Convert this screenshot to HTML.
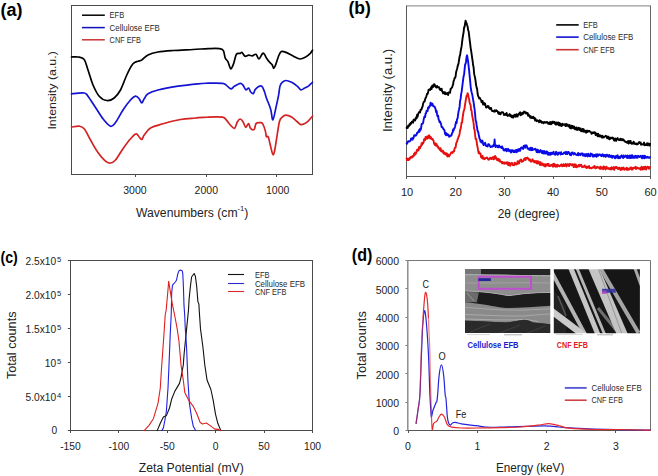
<!DOCTYPE html><html><head><meta charset="utf-8"><style>html,body{margin:0;padding:0;background:#fff;width:658px;height:476px;overflow:hidden}svg{display:block}text{font-family:"Liberation Sans", sans-serif}</style></head><body>
<svg width="658" height="476" viewBox="0 0 658 476">
<rect width="658" height="476" fill="#fff"/>
<text x="0.5" y="15.6" font-size="18.0" text-anchor="start" fill="#000" font-weight="bold" >(a)</text>
<rect x="71.5" y="5.5" width="241" height="169" fill="none" stroke="#4a4a4a" stroke-width="1"/>
<line x1="135.5" y1="174.5" x2="135.5" y2="177.0" stroke="#4a4a4a" stroke-width="1.00"/>
<line x1="206.5" y1="174.5" x2="206.5" y2="177.0" stroke="#4a4a4a" stroke-width="1.00"/>
<line x1="276.5" y1="174.5" x2="276.5" y2="177.0" stroke="#4a4a4a" stroke-width="1.00"/>
<text x="134.9" y="194.2" font-size="10.5" text-anchor="middle" fill="#222" font-weight="normal" >3000</text>
<text x="206.3" y="194.2" font-size="10.5" text-anchor="middle" fill="#222" font-weight="normal" >2000</text>
<text x="277.7" y="194.2" font-size="10.5" text-anchor="middle" fill="#222" font-weight="normal" >1000</text>
<text x="136.0" y="217.0" font-size="12.0" text-anchor="start" fill="#222" font-weight="normal" textLength="112.4" lengthAdjust="spacingAndGlyphs">Wavenumbers (cm<tspan dy="-5.6" font-size="7.5">-1</tspan><tspan dy="5.6">)</tspan></text>
<text transform="translate(56,129.6) rotate(-90)" font-size="11.2" fill="#222" textLength="78.4" lengthAdjust="spacingAndGlyphs">Intensity (a.u.)</text>
<line x1="82.0" y1="15.2" x2="104.8" y2="15.2" stroke="#000" stroke-width="1.50"/>
<text x="109.6" y="18.1" font-size="8.4" fill="#2a2a2a" textLength="14.6" lengthAdjust="spacingAndGlyphs">EFB</text>
<line x1="82.0" y1="27.6" x2="104.8" y2="27.6" stroke="#1010b8" stroke-width="1.50"/>
<text x="109.6" y="30.5" font-size="8.4" fill="#2a2a2a" textLength="50.2" lengthAdjust="spacingAndGlyphs">Cellulose EFB</text>
<line x1="82.0" y1="39.8" x2="104.8" y2="39.8" stroke="#cc3333" stroke-width="1.50"/>
<text x="109.6" y="42.7" font-size="8.4" fill="#2a2a2a" textLength="31.4" lengthAdjust="spacingAndGlyphs">CNF EFB</text>
<path d="M71.5,57.0 C72.6,57.0 75.9,56.6 78.0,57.0 C80.1,57.4 82.6,57.3 84.2,59.5 C85.9,61.7 86.5,65.8 88.0,70.0 C89.5,74.2 91.1,80.6 93.0,85.0 C94.9,89.4 97.0,93.7 99.2,96.2 C101.5,98.8 104.2,100.2 106.8,100.5 C109.2,100.8 112.0,99.8 114.2,98.0 C116.5,96.2 118.4,93.8 120.5,90.0 C122.6,86.2 124.7,79.4 126.8,75.0 C128.8,70.6 131.1,66.0 133.0,63.8 C134.9,61.5 136.5,61.9 138.0,61.2 C139.5,60.6 140.1,61.0 141.8,60.0 C143.4,59.0 145.3,56.3 148.0,55.0 C150.7,53.7 153.8,52.8 158.0,52.0 C162.2,51.2 167.2,50.9 173.0,50.5 C178.8,50.1 187.2,49.8 193.0,49.5 C198.8,49.2 203.6,48.8 208.0,48.6 C212.4,48.5 216.9,48.3 219.5,48.6 C222.1,48.9 222.5,49.0 223.4,50.6 C224.3,52.2 224.4,56.1 225.2,58.0 C226.0,59.9 227.1,60.0 228.0,61.8 C228.9,63.6 229.9,68.6 230.8,68.9 C231.7,69.2 232.7,66.0 233.6,63.6 C234.5,61.2 235.3,56.0 236.4,54.3 C237.5,52.6 239.3,53.7 240.2,53.4 C241.1,53.1 241.2,51.9 242.0,52.4 C242.8,52.9 243.8,55.7 244.9,56.2 C246.0,56.7 247.4,55.3 248.6,55.2 C249.8,55.1 251.1,55.9 252.3,55.8 C253.5,55.6 254.9,53.8 256.0,54.3 C257.1,54.8 257.8,59.1 258.9,59.0 C260.0,58.9 261.7,54.2 262.6,53.4 C263.5,52.6 263.9,53.5 264.5,54.3 C265.1,55.1 265.6,56.8 266.4,58.0 C267.2,59.2 268.3,60.7 269.2,61.8 C270.1,62.9 271.2,63.5 272.0,64.6 C272.8,65.7 273.2,68.3 273.8,68.3 C274.4,68.3 274.9,66.6 275.7,64.6 C276.5,62.6 277.6,58.4 278.5,56.2 C279.4,54.0 280.1,52.1 281.3,51.5 C282.6,50.9 284.0,51.6 286.0,52.4 C288.0,53.2 291.2,55.1 293.5,56.2 C295.8,57.3 298.0,58.9 300.0,59.0 C302.0,59.1 303.9,58.0 305.6,57.1 C307.3,56.2 309.2,54.5 310.3,53.4 C311.4,52.2 312.1,50.7 312.5,50.2" fill="none" stroke="#000" stroke-width="1.70" stroke-linejoin="round" stroke-linecap="round" />
<path d="M71.5,93.8 C73.6,93.6 81.5,92.6 84.2,93.0 C87.0,93.4 86.1,93.8 88.0,96.2 C89.9,98.7 93.0,103.8 95.5,107.5 C98.0,111.2 100.5,115.6 103.0,118.8 C105.5,121.9 108.4,125.6 110.5,126.2 C112.6,126.9 113.4,125.2 115.5,122.5 C117.6,119.8 120.5,113.8 123.0,110.0 C125.5,106.2 128.4,102.3 130.5,100.0 C132.6,97.7 134.0,96.5 135.5,96.2 C137.0,96.0 138.2,97.6 139.2,98.8 C140.3,99.9 140.9,103.0 141.8,103.0 C142.6,103.0 143.2,100.3 144.2,98.8 C145.3,97.2 145.7,95.2 148.0,93.8 C150.3,92.3 153.0,91.2 158.0,90.0 C163.0,88.8 171.3,87.3 178.0,86.2 C184.7,85.2 193.0,84.3 198.0,83.8 C203.0,83.2 203.9,83.3 208.0,83.2 C212.1,83.1 219.4,83.0 222.4,83.3 C225.4,83.6 224.8,84.2 226.2,85.1 C227.6,86.0 229.4,88.7 230.8,88.9 C232.2,89.1 233.0,87.0 234.6,86.1 C236.2,85.2 238.8,83.5 240.2,83.3 C241.6,83.1 242.1,84.0 243.0,85.1 C243.9,86.2 244.9,89.3 245.8,89.8 C246.7,90.3 247.8,87.7 248.6,88.0 C249.4,88.3 249.7,90.8 250.5,91.7 C251.3,92.6 252.5,93.9 253.3,93.6 C254.1,93.3 254.3,90.9 255.1,89.8 C255.9,88.7 256.8,87.6 257.9,87.0 C259.0,86.4 260.6,85.3 261.7,86.1 C262.8,86.9 263.7,89.7 264.5,91.7 C265.3,93.7 265.6,95.8 266.4,98.0 C267.2,100.2 268.4,102.9 269.2,105.0 C270.0,107.1 270.4,108.1 271.0,110.6 C271.6,113.1 272.1,120.2 272.9,119.9 C273.7,119.6 274.8,112.8 275.7,108.7 C276.6,104.7 277.8,99.4 278.5,95.6 C279.2,91.8 279.4,88.3 280.0,86.1 C280.6,83.9 281.2,83.2 282.2,82.3 C283.2,81.4 284.4,80.5 286.0,80.5 C287.6,80.5 289.7,81.4 291.6,82.3 C293.5,83.2 295.6,84.8 297.2,86.1 C298.8,87.3 299.6,89.5 300.9,89.8 C302.1,90.1 303.4,88.6 304.7,88.0 C305.9,87.4 307.1,87.0 308.4,86.1 C309.7,85.1 311.8,82.9 312.5,82.3" fill="none" stroke="#1414d2" stroke-width="1.70" stroke-linejoin="round" stroke-linecap="round" />
<path d="M71.5,127.0 C72.8,126.9 77.1,126.0 79.2,126.2 C81.4,126.5 82.4,126.5 84.2,128.8 C86.1,131.0 88.2,136.0 90.5,140.0 C92.8,144.0 95.5,149.0 98.0,152.5 C100.5,156.0 103.4,159.5 105.5,161.2 C107.6,163.0 108.8,163.2 110.5,163.0 C112.2,162.8 113.4,162.4 115.5,160.0 C117.6,157.6 120.5,152.3 123.0,148.8 C125.5,145.2 128.3,141.2 130.5,138.8 C132.7,136.2 134.5,134.0 136.0,133.8 C137.5,133.5 138.3,136.0 139.2,137.0 C140.2,138.0 140.9,139.8 141.8,139.5 C142.6,139.2 142.8,136.9 144.2,135.0 C145.7,133.1 147.4,129.9 150.5,128.0 C153.6,126.1 158.0,125.2 163.0,123.8 C168.0,122.3 175.1,120.5 180.5,119.5 C185.9,118.5 191.0,118.4 195.5,118.0 C200.0,117.6 203.0,117.2 207.5,117.1 C212.0,116.9 219.3,116.6 222.4,117.1 C225.5,117.6 224.8,118.5 226.2,119.9 C227.6,121.3 229.4,124.1 230.8,125.5 C232.2,126.9 233.5,128.9 234.6,128.3 C235.7,127.7 236.5,123.3 237.4,121.8 C238.3,120.2 239.3,119.0 240.2,119.0 C241.1,119.0 242.1,120.4 243.0,121.8 C243.9,123.2 244.9,127.1 245.8,127.4 C246.7,127.7 247.8,123.4 248.6,123.6 C249.4,123.8 249.6,127.4 250.5,128.3 C251.4,129.2 253.3,130.1 254.2,129.3 C255.1,128.5 255.1,124.7 256.0,123.6 C256.9,122.5 258.7,122.7 259.8,122.7 C260.9,122.7 261.7,122.2 262.6,123.6 C263.5,125.0 264.8,128.9 265.4,131.1 C266.0,133.3 265.9,135.8 266.4,136.7 C266.9,137.6 267.6,135.4 268.2,136.7 C268.8,137.9 269.3,141.2 270.1,144.2 C270.9,147.2 272.1,153.6 272.9,154.5 C273.7,155.4 274.2,152.5 274.8,149.8 C275.4,147.2 275.8,143.3 276.6,138.6 C277.4,133.9 278.5,125.4 279.4,121.8 C280.3,118.2 281.1,118.2 282.2,117.1 C283.3,116.0 284.4,115.2 286.0,115.2 C287.6,115.2 289.7,116.0 291.6,117.1 C293.5,118.2 295.6,120.5 297.2,121.8 C298.8,123.0 299.6,124.3 300.9,124.6 C302.1,124.9 303.4,124.2 304.7,123.6 C305.9,123.0 307.1,122.0 308.4,120.8 C309.7,119.6 311.8,117.0 312.5,116.2" fill="none" stroke="#d42222" stroke-width="1.70" stroke-linejoin="round" stroke-linecap="round" />
<text x="348.5" y="14.0" font-size="17.5" text-anchor="start" fill="#000" font-weight="bold" >(b)</text>
<line x1="406.6" y1="5.9" x2="650.5" y2="5.9" stroke="#9a9a9a" stroke-width="1.30"/>
<line x1="650.5" y1="5.5" x2="650.5" y2="176.5" stroke="#666" stroke-width="1.00"/>
<line x1="406.5" y1="5.5" x2="406.5" y2="176.5" stroke="#5a5a5a" stroke-width="1.00"/>
<line x1="406.0" y1="176.5" x2="651.0" y2="176.5" stroke="#555" stroke-width="1.00"/>
<line x1="406.5" y1="176.5" x2="406.5" y2="179.0" stroke="#555" stroke-width="1.00"/>
<text x="407.0" y="195.6" font-size="11.0" text-anchor="middle" fill="#222" font-weight="normal" >10</text>
<line x1="455.5" y1="176.5" x2="455.5" y2="179.0" stroke="#555" stroke-width="1.00"/>
<text x="455.7" y="195.6" font-size="11.0" text-anchor="middle" fill="#222" font-weight="normal" >20</text>
<line x1="504.5" y1="176.5" x2="504.5" y2="179.0" stroke="#555" stroke-width="1.00"/>
<text x="504.4" y="195.6" font-size="11.0" text-anchor="middle" fill="#222" font-weight="normal" >30</text>
<line x1="553.5" y1="176.5" x2="553.5" y2="179.0" stroke="#555" stroke-width="1.00"/>
<text x="553.1" y="195.6" font-size="11.0" text-anchor="middle" fill="#222" font-weight="normal" >40</text>
<line x1="601.5" y1="176.5" x2="601.5" y2="179.0" stroke="#555" stroke-width="1.00"/>
<text x="601.8" y="195.6" font-size="11.0" text-anchor="middle" fill="#222" font-weight="normal" >50</text>
<line x1="650.5" y1="176.5" x2="650.5" y2="179.0" stroke="#555" stroke-width="1.00"/>
<text x="650.5" y="195.6" font-size="11.0" text-anchor="middle" fill="#222" font-weight="normal" >60</text>
<text x="497.7" y="217.6" font-size="12.0" text-anchor="start" fill="#222" font-weight="normal" textLength="61.7" lengthAdjust="spacingAndGlyphs">2θ (degree)</text>
<text transform="translate(392.4,132.1) rotate(-90)" font-size="13" fill="#222" textLength="83.3" lengthAdjust="spacingAndGlyphs">Intensity (a.u.)</text>
<line x1="556.2" y1="24.9" x2="578.7" y2="24.9" stroke="#000" stroke-width="1.60"/>
<text x="583.2" y="28.0" font-size="8.4" fill="#2a2a2a" textLength="14.6" lengthAdjust="spacingAndGlyphs">EFB</text>
<line x1="556.2" y1="37.1" x2="578.7" y2="37.1" stroke="#1010d0" stroke-width="1.60"/>
<text x="583.2" y="40.2" font-size="8.4" fill="#2a2a2a" textLength="50.2" lengthAdjust="spacingAndGlyphs">Cellulose EFB</text>
<line x1="556.2" y1="49.7" x2="578.7" y2="49.7" stroke="#cc3333" stroke-width="1.60"/>
<text x="583.2" y="52.8" font-size="8.4" fill="#2a2a2a" textLength="31.4" lengthAdjust="spacingAndGlyphs">CNF EFB</text>
<path d="M406.6,127.9 L407.1,126.9 L407.6,128.0 L408.1,125.6 L408.6,126.6 L409.1,125.5 L409.6,124.0 L410.1,125.0 L410.6,123.0 L411.1,123.7 L411.6,122.0 L412.1,121.6 L412.6,122.1 L413.1,122.7 L413.6,119.8 L414.1,119.4 L414.6,120.1 L415.1,120.4 L415.6,118.5 L416.1,117.3 L416.6,118.4 L417.1,114.8 L417.6,116.7 L418.1,114.2 L418.6,113.1 L419.1,112.1 L419.6,111.8 L420.1,112.5 L420.6,109.6 L421.1,109.9 L421.6,109.2 L422.1,107.3 L422.6,106.6 L423.1,103.7 L423.6,102.3 L424.1,101.5 L424.6,101.6 L425.1,99.5 L425.6,97.8 L426.1,97.3 L426.6,95.6 L427.1,93.8 L427.6,94.0 L428.1,92.4 L428.6,89.6 L429.1,89.9 L429.6,89.3 L430.1,90.0 L430.6,89.1 L431.1,87.2 L431.6,89.0 L432.1,85.8 L432.6,86.3 L433.1,86.9 L433.6,84.5 L434.1,85.6 L434.6,84.3 L435.1,86.4 L435.6,86.9 L436.1,86.4 L436.6,87.6 L437.1,85.9 L437.6,87.3 L438.1,87.1 L438.6,87.2 L439.1,87.2 L439.6,89.0 L440.1,89.9 L440.6,89.0 L441.1,90.1 L441.6,88.7 L442.1,91.3 L442.6,91.7 L443.1,93.4 L443.6,93.4 L444.1,92.1 L444.6,92.8 L445.1,94.1 L445.6,92.4 L446.1,94.2 L446.6,93.6 L447.1,93.7 L447.6,93.1 L448.1,95.0 L448.6,92.5 L449.1,92.5 L449.6,92.4 L450.1,92.7 L450.6,88.9 L451.1,88.8 L451.6,87.9 L452.1,87.4 L452.6,85.7 L453.1,84.4 L453.6,81.0 L454.1,79.8 L454.6,77.9 L455.1,77.9 L455.6,76.4 L456.1,72.2 L456.6,70.5 L457.1,68.7 L457.6,66.4 L458.1,64.9 L458.6,62.9 L459.1,59.6 L459.6,56.5 L460.1,55.2 L460.6,51.6 L461.1,48.7 L461.6,46.4 L462.1,42.1 L462.6,38.0 L463.1,35.2 L463.6,32.3 L464.1,27.3 L464.6,26.9 L465.1,23.5 L465.6,20.7 L466.1,22.5 L466.6,23.3 L467.1,25.3 L467.6,26.4 L468.1,30.2 L468.6,31.2 L469.1,35.1 L469.6,39.4 L470.1,43.1 L470.6,47.6 L471.1,50.6 L471.6,53.8 L472.1,57.6 L472.6,60.8 L473.1,65.0 L473.6,67.3 L474.1,73.4 L474.6,75.9 L475.1,77.8 L475.6,81.4 L476.1,85.1 L476.6,87.4 L477.1,88.9 L477.6,93.5 L478.1,96.2 L478.6,96.7 L479.1,98.4 L479.6,97.7 L480.1,98.3 L480.6,99.7 L481.1,100.0 L481.6,102.4 L482.1,100.9 L482.6,101.0 L483.1,104.5 L483.6,103.7 L484.1,103.0 L484.6,104.7 L485.1,103.6 L485.6,105.7 L486.1,107.6 L486.6,107.5 L487.1,107.2 L487.6,106.0 L488.1,106.6 L488.6,106.2 L489.1,108.4 L489.6,107.9 L490.1,109.0 L490.6,107.9 L491.1,107.9 L491.6,110.1 L492.1,111.0 L492.6,110.9 L493.1,111.1 L493.6,111.5 L494.1,111.6 L494.6,110.3 L495.1,111.6 L495.6,111.2 L496.1,110.3 L496.6,110.4 L497.1,111.3 L497.6,111.3 L498.1,112.9 L498.6,113.8 L499.1,112.3 L499.6,114.0 L500.1,114.3 L500.6,114.3 L501.1,112.5 L501.6,112.2 L502.1,112.3 L502.6,112.3 L503.1,112.5 L503.6,113.9 L504.1,115.0 L504.6,114.9 L505.1,113.9 L505.6,114.5 L506.1,115.1 L506.6,113.0 L507.1,114.9 L507.6,115.9 L508.1,115.6 L508.6,115.6 L509.1,114.9 L509.6,114.0 L510.1,116.1 L510.6,114.8 L511.1,116.5 L511.6,117.2 L512.1,115.6 L512.6,115.8 L513.1,117.7 L513.6,116.9 L514.1,115.0 L514.6,114.7 L515.1,114.6 L515.6,116.8 L516.1,116.3 L516.6,114.1 L517.1,116.1 L517.6,116.4 L518.1,115.2 L518.6,114.0 L519.1,114.4 L519.6,112.9 L520.1,112.3 L520.6,115.2 L521.1,113.9 L521.6,113.3 L522.1,114.4 L522.6,112.6 L523.1,113.8 L523.6,113.5 L524.1,111.5 L524.6,111.8 L525.1,112.2 L525.6,112.3 L526.1,113.6 L526.6,112.8 L527.1,113.6 L527.6,113.0 L528.1,115.9 L528.6,114.5 L529.1,115.2 L529.6,116.0 L530.1,117.4 L530.6,116.2 L531.1,118.1 L531.6,117.2 L532.1,117.6 L532.6,118.0 L533.1,116.7 L533.6,118.4 L534.1,117.9 L534.6,117.7 L535.1,120.6 L535.6,119.0 L536.1,120.2 L536.6,121.2 L537.1,120.8 L537.6,120.3 L538.1,121.0 L538.6,121.3 L539.1,122.2 L539.6,120.2 L540.1,121.8 L540.6,121.0 L541.1,121.1 L541.6,122.7 L542.1,121.9 L542.6,122.1 L543.1,122.8 L543.6,123.3 L544.1,121.9 L544.6,122.4 L545.1,122.1 L545.6,122.2 L546.1,122.8 L546.6,122.1 L547.1,122.4 L547.6,122.2 L548.1,123.8 L548.6,123.1 L549.1,123.7 L549.6,124.0 L550.1,121.9 L550.6,122.9 L551.1,124.2 L551.6,123.9 L552.1,121.8 L552.6,121.8 L553.1,122.9 L553.6,121.7 L554.1,122.4 L554.6,121.9 L555.1,123.9 L555.6,124.3 L556.1,124.7 L556.6,122.4 L557.1,124.2 L557.6,124.1 L558.1,122.5 L558.6,124.9 L559.1,125.3 L559.6,123.0 L560.1,125.5 L560.6,123.8 L561.1,124.2 L561.6,126.0 L562.1,125.6 L562.6,123.6 L563.1,124.6 L563.6,124.9 L564.1,124.5 L564.6,124.2 L565.1,124.7 L565.6,126.1 L566.1,124.0 L566.6,125.8 L567.1,125.6 L567.6,124.4 L568.1,125.5 L568.6,126.5 L569.1,126.3 L569.6,125.0 L570.1,128.1 L570.6,127.7 L571.1,128.4 L571.6,125.8 L572.1,126.4 L572.6,125.9 L573.1,128.4 L573.6,126.9 L574.1,126.6 L574.6,127.7 L575.1,129.4 L575.6,129.3 L576.1,127.6 L576.6,127.4 L577.1,130.0 L577.6,129.1 L578.1,129.6 L578.6,127.8 L579.1,127.9 L579.6,130.0 L580.1,129.3 L580.6,128.4 L581.1,131.3 L581.6,130.5 L582.1,131.1 L582.6,129.0 L583.1,131.6 L583.6,129.2 L584.1,131.9 L584.6,130.8 L585.1,130.6 L585.6,131.4 L586.1,132.7 L586.6,130.8 L587.1,130.5 L587.6,131.9 L588.1,131.1 L588.6,130.9 L589.1,131.2 L589.6,131.0 L590.1,131.6 L590.6,132.1 L591.1,132.3 L591.6,133.9 L592.1,132.5 L592.6,133.3 L593.1,132.4 L593.6,133.1 L594.1,132.2 L594.6,133.1 L595.1,132.5 L595.6,135.0 L596.1,134.5 L596.6,133.5 L597.1,134.6 L597.6,136.2 L598.1,133.7 L598.6,136.2 L599.1,135.1 L599.6,135.4 L600.1,136.7 L600.6,135.4 L601.1,135.9 L601.6,136.6 L602.1,137.7 L602.6,135.8 L603.1,137.5 L603.6,137.3 L604.1,137.2 L604.6,136.6 L605.1,136.6 L605.6,135.8 L606.1,136.2 L606.6,136.1 L607.1,138.4 L607.6,136.9 L608.1,136.7 L608.6,136.6 L609.1,139.1 L609.6,139.3 L610.1,138.8 L610.6,137.6 L611.1,137.6 L611.6,137.9 L612.1,138.5 L612.6,137.6 L613.1,138.6 L613.6,138.2 L614.1,140.5 L614.6,140.6 L615.1,139.4 L615.6,138.5 L616.1,140.9 L616.6,138.9 L617.1,139.2 L617.6,138.1 L618.1,139.4 L618.6,139.8 L619.1,140.0 L619.6,139.2 L620.1,140.2 L620.6,138.7 L621.1,139.7 L621.6,139.2 L622.1,140.3 L622.6,139.3 L623.1,139.3 L623.6,140.3 L624.1,140.2 L624.6,141.4 L625.1,141.3 L625.6,142.1 L626.1,141.9 L626.6,142.2 L627.1,142.8 L627.6,141.4 L628.1,141.3 L628.6,143.5 L629.1,140.9 L629.6,142.8 L630.1,142.7 L630.6,140.9 L631.1,143.5 L631.6,143.8 L632.1,143.0 L632.6,143.4 L633.1,143.7 L633.6,141.6 L634.1,142.9 L634.6,142.9 L635.1,144.0 L635.6,144.0 L636.1,144.1 L636.6,143.4 L637.1,144.5 L637.6,143.9 L638.1,144.0 L638.6,142.6 L639.1,142.0 L639.6,142.4 L640.1,143.2 L640.6,142.4 L641.1,144.8 L641.6,144.0 L642.1,144.3 L642.6,144.4 L643.1,144.6 L643.6,144.1 L644.1,142.6 L644.6,145.2 L645.1,145.1 L645.6,144.4 L646.1,144.5 L646.6,145.0 L647.1,143.2 L647.6,145.4 L648.1,143.9 L648.6,143.4 L649.1,144.1 L649.6,145.6 L650.1,144.0" fill="none" stroke="#000" stroke-width="1.90" stroke-linejoin="round" stroke-linecap="round" />
<path d="M406.6,143.3 L407.1,143.7 L407.6,141.9 L408.1,141.2 L408.6,141.2 L409.1,141.6 L409.6,141.6 L410.1,140.8 L410.6,140.6 L411.1,138.5 L411.6,138.4 L412.1,138.4 L412.6,139.7 L413.1,137.7 L413.6,137.9 L414.1,135.5 L414.6,135.1 L415.1,135.1 L415.6,135.8 L416.1,135.3 L416.6,134.6 L417.1,132.8 L417.6,132.9 L418.1,132.2 L418.6,131.6 L419.1,129.9 L419.6,131.7 L420.1,128.8 L420.6,129.9 L421.1,128.3 L421.6,124.0 L422.1,124.0 L422.6,123.7 L423.1,122.8 L423.6,119.8 L424.1,117.8 L424.6,116.2 L425.1,117.1 L425.6,113.4 L426.1,113.2 L426.6,110.6 L427.1,110.8 L427.6,111.1 L428.1,107.4 L428.6,108.5 L429.1,106.5 L429.6,106.6 L430.1,105.0 L430.6,102.7 L431.1,105.4 L431.6,104.6 L432.1,103.6 L432.6,104.0 L433.1,106.1 L433.6,106.4 L434.1,106.5 L434.6,106.5 L435.1,107.8 L435.6,109.1 L436.1,112.2 L436.6,110.9 L437.1,114.7 L437.6,116.4 L438.1,115.5 L438.6,119.4 L439.1,120.2 L439.6,122.2 L440.1,121.5 L440.6,122.9 L441.1,124.1 L441.6,127.1 L442.1,126.9 L442.6,127.3 L443.1,128.6 L443.6,129.2 L444.1,129.6 L444.6,130.8 L445.1,134.2 L445.6,132.8 L446.1,135.3 L446.6,133.5 L447.1,134.0 L447.6,135.2 L448.1,134.5 L448.6,135.0 L449.1,136.8 L449.6,136.4 L450.1,136.1 L450.6,135.5 L451.1,135.8 L451.6,135.0 L452.1,132.9 L452.6,132.5 L453.1,129.5 L453.6,130.6 L454.1,128.4 L454.6,128.1 L455.1,126.5 L455.6,124.0 L456.1,121.7 L456.6,123.0 L457.1,118.9 L457.6,118.5 L458.1,114.7 L458.6,111.2 L459.1,109.3 L459.6,106.7 L460.1,101.0 L460.6,98.9 L461.1,94.4 L461.6,91.9 L462.1,88.0 L462.6,83.9 L463.1,80.0 L463.6,76.2 L464.1,74.5 L464.6,69.3 L465.1,64.5 L465.6,63.7 L466.1,61.2 L466.6,56.7 L467.1,55.3 L467.6,58.6 L468.1,61.4 L468.6,66.0 L469.1,70.1 L469.6,75.4 L470.1,80.4 L470.6,86.2 L471.1,90.0 L471.6,92.2 L472.1,93.9 L472.6,96.6 L473.1,99.7 L473.6,102.2 L474.1,106.1 L474.6,109.3 L475.1,114.0 L475.6,120.3 L476.1,121.3 L476.6,125.0 L477.1,127.9 L477.6,131.1 L478.1,131.5 L478.6,134.1 L479.1,136.5 L479.6,138.7 L480.1,139.5 L480.6,141.7 L481.1,141.9 L481.6,142.6 L482.1,140.5 L482.6,141.1 L483.1,143.9 L483.6,145.1 L484.1,143.9 L484.6,144.4 L485.1,142.7 L485.6,144.2 L486.1,146.0 L486.6,145.9 L487.1,146.2 L487.6,146.6 L488.1,144.4 L488.6,144.1 L489.1,144.3 L489.6,145.6 L490.1,146.2 L490.6,147.1 L491.1,146.5 L491.6,146.3 L492.1,146.8 L492.6,145.9 L493.1,146.3 L493.6,144.8 L494.1,145.5 L494.6,139.5 L495.1,146.1 L495.6,147.0 L496.1,146.0 L496.6,145.4 L497.1,145.9 L497.6,147.2 L498.1,147.4 L498.6,145.6 L499.1,145.5 L499.6,147.0 L500.1,147.3 L500.6,146.9 L501.1,146.7 L501.6,148.1 L502.1,146.5 L502.6,147.7 L503.1,148.4 L503.6,150.3 L504.1,149.5 L504.6,150.5 L505.1,149.4 L505.6,148.8 L506.1,149.0 L506.6,151.4 L507.1,150.7 L507.6,149.6 L508.1,148.8 L508.6,150.5 L509.1,151.2 L509.6,150.5 L510.1,150.1 L510.6,151.6 L511.1,152.5 L511.6,150.4 L512.1,150.0 L512.6,151.1 L513.1,151.4 L513.6,152.1 L514.1,150.4 L514.6,152.2 L515.1,151.9 L515.6,151.0 L516.1,149.9 L516.6,152.2 L517.1,149.9 L517.6,151.4 L518.1,149.4 L518.6,149.2 L519.1,150.8 L519.6,149.0 L520.1,150.8 L520.6,149.0 L521.1,147.7 L521.6,147.5 L522.1,147.8 L522.6,148.3 L523.1,148.9 L523.6,146.0 L524.1,146.5 L524.6,145.6 L525.1,147.9 L525.6,145.4 L526.1,145.3 L526.6,145.6 L527.1,146.9 L527.6,148.7 L528.1,148.9 L528.6,148.6 L529.1,149.7 L529.6,149.7 L530.1,148.0 L530.6,147.7 L531.1,150.3 L531.6,149.9 L532.1,147.8 L532.6,150.0 L533.1,149.3 L533.6,149.4 L534.1,149.5 L534.6,149.1 L535.1,148.7 L535.6,149.7 L536.1,150.0 L536.6,152.1 L537.1,149.5 L537.6,152.3 L538.1,150.0 L538.6,150.6 L539.1,152.2 L539.6,152.3 L540.1,151.2 L540.6,150.1 L541.1,151.6 L541.6,151.4 L542.1,153.2 L542.6,151.0 L543.1,151.7 L543.6,153.5 L544.1,150.9 L544.6,152.2 L545.1,153.6 L545.6,153.6 L546.1,151.4 L546.6,151.5 L547.1,151.7 L547.6,154.5 L548.1,152.5 L548.6,154.2 L549.1,154.8 L549.6,153.0 L550.1,152.7 L550.6,154.9 L551.1,153.8 L551.6,152.7 L552.1,154.1 L552.6,152.8 L553.1,152.6 L553.6,151.8 L554.1,154.1 L554.6,154.6 L555.1,153.7 L555.6,154.7 L556.1,151.7 L556.6,152.4 L557.1,153.2 L557.6,154.7 L558.1,154.6 L558.6,152.8 L559.1,152.4 L559.6,152.9 L560.1,153.1 L560.6,154.5 L561.1,152.1 L561.6,154.0 L562.1,153.8 L562.6,154.1 L563.1,153.9 L563.6,153.4 L564.1,152.5 L564.6,152.5 L565.1,152.7 L565.6,154.0 L566.1,151.8 L566.6,152.3 L567.1,154.1 L567.6,152.5 L568.1,152.0 L568.6,151.9 L569.1,153.6 L569.6,152.9 L570.1,155.1 L570.6,154.8 L571.1,155.2 L571.6,152.9 L572.1,152.4 L572.6,152.4 L573.1,153.8 L573.6,154.5 L574.1,153.7 L574.6,153.1 L575.1,153.7 L575.6,154.4 L576.1,154.6 L576.6,154.9 L577.1,155.2 L577.6,154.7 L578.1,153.0 L578.6,155.3 L579.1,153.6 L579.6,154.6 L580.1,154.0 L580.6,155.2 L581.1,153.5 L581.6,153.7 L582.1,153.7 L582.6,153.5 L583.1,155.8 L583.6,154.9 L584.1,154.1 L584.6,154.3 L585.1,156.3 L585.6,154.8 L586.1,153.9 L586.6,155.8 L587.1,155.3 L587.6,156.4 L588.1,153.6 L588.6,154.8 L589.1,156.0 L589.6,156.1 L590.1,156.3 L590.6,153.5 L591.1,154.4 L591.6,153.9 L592.1,154.1 L592.6,156.6 L593.1,155.4 L593.6,156.6 L594.1,154.8 L594.6,156.4 L595.1,155.1 L595.6,154.5 L596.1,156.2 L596.6,156.8 L597.1,154.1 L597.6,155.7 L598.1,155.8 L598.6,154.6 L599.1,155.1 L599.6,154.4 L600.1,154.6 L600.6,154.8 L601.1,156.0 L601.6,156.2 L602.1,154.8 L602.6,154.2 L603.1,155.3 L603.6,156.4 L604.1,154.9 L604.6,155.3 L605.1,155.0 L605.6,156.9 L606.1,156.2 L606.6,154.7 L607.1,154.8 L607.6,155.8 L608.1,156.3 L608.6,156.7 L609.1,154.9 L609.6,155.2 L610.1,157.0 L610.6,156.1 L611.1,155.7 L611.6,155.8 L612.1,157.9 L612.6,155.9 L613.1,156.8 L613.6,156.1 L614.1,156.4 L614.6,157.8 L615.1,158.3 L615.6,156.3 L616.1,155.8 L616.6,157.5 L617.1,155.9 L617.6,155.3 L618.1,158.2 L618.6,156.7 L619.1,158.0 L619.6,156.7 L620.1,158.2 L620.6,156.8 L621.1,155.8 L621.6,155.3 L622.1,157.0 L622.6,157.3 L623.1,158.1 L623.6,155.5 L624.1,157.2 L624.6,156.4 L625.1,156.8 L625.6,155.6 L626.1,156.0 L626.6,156.8 L627.1,158.0 L627.6,155.4 L628.1,156.6 L628.6,157.6 L629.1,158.1 L629.6,155.6 L630.1,155.4 L630.6,158.0 L631.1,158.0 L631.6,156.5 L632.1,155.1 L632.6,157.9 L633.1,156.2 L633.6,157.9 L634.1,157.0 L634.6,157.7 L635.1,155.6 L635.6,157.6 L636.1,155.9 L636.6,156.5 L637.1,157.9 L637.6,157.9 L638.1,155.8 L638.6,156.0 L639.1,156.6 L639.6,157.0 L640.1,156.6 L640.6,155.8 L641.1,156.2 L641.6,157.8 L642.1,158.3 L642.6,155.6 L643.1,157.3 L643.6,158.0 L644.1,155.7 L644.6,158.3 L645.1,156.0 L645.6,157.6 L646.1,157.4 L646.6,157.7 L647.1,156.7 L647.6,157.1 L648.1,157.6 L648.6,157.2 L649.1,157.9 L649.6,157.3 L650.1,157.3" fill="none" stroke="#0a0ae6" stroke-width="1.90" stroke-linejoin="round" stroke-linecap="round" />
<path d="M406.6,158.5 L407.1,160.2 L407.6,159.5 L408.1,158.5 L408.6,160.0 L409.1,159.8 L409.6,158.6 L410.1,157.5 L410.6,158.2 L411.1,156.8 L411.6,156.7 L412.1,157.4 L412.6,156.1 L413.1,156.5 L413.6,156.0 L414.1,153.8 L414.6,155.0 L415.1,152.5 L415.6,153.9 L416.1,153.3 L416.6,151.8 L417.1,149.6 L417.6,150.4 L418.1,149.3 L418.6,150.4 L419.1,147.0 L419.6,148.5 L420.1,148.2 L420.6,146.5 L421.1,146.0 L421.6,143.2 L422.1,144.9 L422.6,142.6 L423.1,143.3 L423.6,142.3 L424.1,139.1 L424.6,140.3 L425.1,140.1 L425.6,137.0 L426.1,137.7 L426.6,138.7 L427.1,136.5 L427.6,138.6 L428.1,136.3 L428.6,137.8 L429.1,135.3 L429.6,136.4 L430.1,138.4 L430.6,136.8 L431.1,137.7 L431.6,139.1 L432.1,139.2 L432.6,139.0 L433.1,140.1 L433.6,140.8 L434.1,143.9 L434.6,143.8 L435.1,145.1 L435.6,143.3 L436.1,145.8 L436.6,144.1 L437.1,145.9 L437.6,146.8 L438.1,146.4 L438.6,148.5 L439.1,148.0 L439.6,148.6 L440.1,150.1 L440.6,148.1 L441.1,151.4 L441.6,150.7 L442.1,150.4 L442.6,152.1 L443.1,150.9 L443.6,153.6 L444.1,152.8 L444.6,152.5 L445.1,154.2 L445.6,153.6 L446.1,153.2 L446.6,155.5 L447.1,153.7 L447.6,156.5 L448.1,154.5 L448.6,155.5 L449.1,156.4 L449.6,155.0 L450.1,155.0 L450.6,153.7 L451.1,152.5 L451.6,152.4 L452.1,152.2 L452.6,152.9 L453.1,151.6 L453.6,151.1 L454.1,151.5 L454.6,148.3 L455.1,147.7 L455.6,147.5 L456.1,143.8 L456.6,142.2 L457.1,141.7 L457.6,139.3 L458.1,138.5 L458.6,136.4 L459.1,136.0 L459.6,133.7 L460.1,130.0 L460.6,128.9 L461.1,125.9 L461.6,122.4 L462.1,122.5 L462.6,117.8 L463.1,114.5 L463.6,111.3 L464.1,110.0 L464.6,107.7 L465.1,104.4 L465.6,101.1 L466.1,98.5 L466.6,95.6 L467.1,95.6 L467.6,93.2 L468.1,94.5 L468.6,97.5 L469.1,98.9 L469.6,102.5 L470.1,103.8 L470.6,105.1 L471.1,110.2 L471.6,110.5 L472.1,115.1 L472.6,117.7 L473.1,120.4 L473.6,123.2 L474.1,128.9 L474.6,129.8 L475.1,134.9 L475.6,138.8 L476.1,138.7 L476.6,141.4 L477.1,145.1 L477.6,147.3 L478.1,150.2 L478.6,153.2 L479.1,151.9 L479.6,153.1 L480.1,153.9 L480.6,153.8 L481.1,157.3 L481.6,157.7 L482.1,158.1 L482.6,156.0 L483.1,158.9 L483.6,158.8 L484.1,158.1 L484.6,159.2 L485.1,158.5 L485.6,158.0 L486.1,157.7 L486.6,158.1 L487.1,157.4 L487.6,158.3 L488.1,159.5 L488.6,159.3 L489.1,159.7 L489.6,159.2 L490.1,157.7 L490.6,158.6 L491.1,158.1 L491.6,159.1 L492.1,158.2 L492.6,157.2 L493.1,158.3 L493.6,159.3 L494.1,156.8 L494.6,158.8 L495.1,156.0 L495.6,157.1 L496.1,157.3 L496.6,159.2 L497.1,160.2 L497.6,159.8 L498.1,158.8 L498.6,160.9 L499.1,159.4 L499.6,159.4 L500.1,161.9 L500.6,161.3 L501.1,161.8 L501.6,162.0 L502.1,163.3 L502.6,161.9 L503.1,163.3 L503.6,163.0 L504.1,163.7 L504.6,162.5 L505.1,163.6 L505.6,163.3 L506.1,162.6 L506.6,162.4 L507.1,163.9 L507.6,162.3 L508.1,165.2 L508.6,162.9 L509.1,162.7 L509.6,163.1 L510.1,165.9 L510.6,164.0 L511.1,163.4 L511.6,163.0 L512.1,163.0 L512.6,165.1 L513.1,164.9 L513.6,165.1 L514.1,165.2 L514.6,162.8 L515.1,164.2 L515.6,163.3 L516.1,164.5 L516.6,164.2 L517.1,164.2 L517.6,161.3 L518.1,163.6 L518.6,163.5 L519.1,163.4 L519.6,160.4 L520.1,160.5 L520.6,160.0 L521.1,159.5 L521.6,161.9 L522.1,161.6 L522.6,160.8 L523.1,161.2 L523.6,160.4 L524.1,159.1 L524.6,158.3 L525.1,158.1 L525.6,160.0 L526.1,158.0 L526.6,158.2 L527.1,158.7 L527.6,157.6 L528.1,158.5 L528.6,158.8 L529.1,160.3 L529.6,159.4 L530.1,159.4 L530.6,161.6 L531.1,160.3 L531.6,161.6 L532.1,161.0 L532.6,159.3 L533.1,160.7 L533.6,160.9 L534.1,162.2 L534.6,161.0 L535.1,162.3 L535.6,162.0 L536.1,161.1 L536.6,163.4 L537.1,161.1 L537.6,163.6 L538.1,161.7 L538.6,161.4 L539.1,162.2 L539.6,164.2 L540.1,165.1 L540.6,162.1 L541.1,163.9 L541.6,164.1 L542.1,165.2 L542.6,163.5 L543.1,164.6 L543.6,164.4 L544.1,166.1 L544.6,164.3 L545.1,166.5 L545.6,164.4 L546.1,164.2 L546.6,165.7 L547.1,165.1 L547.6,163.9 L548.1,165.6 L548.6,163.8 L549.1,166.1 L549.6,165.8 L550.1,166.1 L550.6,165.6 L551.1,164.8 L551.6,164.9 L552.1,164.9 L552.6,166.5 L553.1,164.0 L553.6,166.6 L554.1,163.8 L554.6,164.4 L555.1,164.6 L555.6,166.7 L556.1,165.4 L556.6,165.0 L557.1,166.7 L557.6,164.6 L558.1,165.3 L558.6,165.6 L559.1,166.3 L559.6,166.3 L560.1,165.9 L560.6,164.9 L561.1,164.8 L561.6,164.3 L562.1,166.4 L562.6,165.8 L563.1,166.1 L563.6,164.2 L564.1,165.0 L564.6,166.1 L565.1,165.4 L565.6,164.0 L566.1,165.0 L566.6,166.4 L567.1,164.3 L567.6,164.1 L568.1,164.4 L568.6,165.7 L569.1,166.1 L569.6,164.0 L570.1,164.0 L570.6,164.4 L571.1,164.7 L571.6,165.3 L572.1,164.2 L572.6,164.8 L573.1,164.4 L573.6,167.0 L574.1,166.2 L574.6,164.3 L575.1,167.1 L575.6,164.4 L576.1,165.3 L576.6,167.3 L577.1,166.8 L577.6,166.6 L578.1,165.7 L578.6,165.0 L579.1,166.5 L579.6,164.8 L580.1,165.2 L580.6,165.8 L581.1,164.7 L581.6,165.9 L582.1,167.2 L582.6,167.0 L583.1,166.4 L583.6,166.9 L584.1,166.4 L584.6,165.4 L585.1,166.9 L585.6,166.4 L586.1,167.5 L586.6,168.1 L587.1,166.6 L587.6,167.1 L588.1,167.7 L588.6,166.7 L589.1,166.1 L589.6,167.7 L590.1,168.3 L590.6,168.0 L591.1,167.8 L591.6,168.3 L592.1,167.8 L592.6,167.7 L593.1,167.1 L593.6,166.7 L594.1,167.7 L594.6,166.0 L595.1,167.1 L595.6,168.3 L596.1,168.1 L596.6,167.8 L597.1,166.7 L597.6,167.2 L598.1,167.4 L598.6,167.9 L599.1,167.3 L599.6,168.2 L600.1,169.0 L600.6,166.6 L601.1,168.2 L601.6,168.6 L602.1,167.4 L602.6,167.7 L603.1,169.3 L603.6,166.4 L604.1,168.0 L604.6,166.8 L605.1,168.8 L605.6,169.4 L606.1,168.0 L606.6,166.7 L607.1,168.3 L607.6,168.2 L608.1,168.8 L608.6,168.1 L609.1,168.6 L609.6,169.2 L610.1,168.2 L610.6,167.9 L611.1,169.6 L611.6,167.3 L612.1,168.8 L612.6,167.9 L613.1,169.1 L613.6,167.1 L614.1,169.9 L614.6,167.9 L615.1,166.9 L615.6,167.7 L616.1,168.1 L616.6,166.9 L617.1,168.2 L617.6,168.2 L618.1,169.1 L618.6,168.0 L619.1,167.8 L619.6,167.7 L620.1,169.4 L620.6,170.0 L621.1,168.7 L621.6,167.7 L622.1,169.6 L622.6,168.3 L623.1,167.8 L623.6,167.5 L624.1,169.6 L624.6,169.7 L625.1,169.1 L625.6,168.6 L626.1,168.9 L626.6,167.8 L627.1,170.1 L627.6,168.2 L628.1,169.1 L628.6,169.6 L629.1,169.6 L629.6,168.5 L630.1,167.9 L630.6,168.7 L631.1,167.3 L631.6,169.6 L632.1,168.1 L632.6,169.6 L633.1,167.7 L633.6,168.1 L634.1,167.7 L634.6,168.2 L635.1,167.4 L635.6,166.8 L636.1,169.1 L636.6,167.7 L637.1,167.6 L637.6,167.7 L638.1,168.3 L638.6,168.1 L639.1,168.8 L639.6,168.8 L640.1,167.9 L640.6,169.7 L641.1,169.4 L641.6,166.8 L642.1,169.3 L642.6,169.5 L643.1,169.1 L643.6,167.0 L644.1,169.2 L644.6,168.6 L645.1,166.6 L645.6,166.6 L646.1,169.6 L646.6,168.6 L647.1,167.3 L647.6,166.8 L648.1,166.9 L648.6,167.2 L649.1,168.9 L649.6,167.5 L650.1,166.9" fill="none" stroke="#e61010" stroke-width="1.90" stroke-linejoin="round" stroke-linecap="round" />
<text x="0.4" y="263.0" font-size="16.5" text-anchor="start" fill="#000" font-weight="bold" textLength="17.4" lengthAdjust="spacingAndGlyphs">(c)</text>
<rect x="70.5" y="260.5" width="242" height="170" fill="none" stroke="#4a4a4a" stroke-width="1"/>
<line x1="67.8" y1="260.5" x2="70.5" y2="260.5" stroke="#4a4a4a" stroke-width="1.00"/>
<text x="56.2" y="265.1" font-size="10.2" text-anchor="end" fill="#222">2.5x10</text>
<text x="56.9" y="261.5" font-size="7.6" fill="#222">5</text>
<line x1="67.8" y1="294.5" x2="70.5" y2="294.5" stroke="#4a4a4a" stroke-width="1.00"/>
<text x="56.2" y="299.1" font-size="10.2" text-anchor="end" fill="#222">2.0x10</text>
<text x="56.9" y="295.5" font-size="7.6" fill="#222">5</text>
<line x1="67.8" y1="328.5" x2="70.5" y2="328.5" stroke="#4a4a4a" stroke-width="1.00"/>
<text x="56.2" y="333.2" font-size="10.2" text-anchor="end" fill="#222">1.5x10</text>
<text x="56.9" y="329.6" font-size="7.6" fill="#222">5</text>
<line x1="67.8" y1="362.5" x2="70.5" y2="362.5" stroke="#4a4a4a" stroke-width="1.00"/>
<text x="56.2" y="367.2" font-size="10.2" text-anchor="end" fill="#222">10</text>
<text x="56.9" y="363.6" font-size="7.6" fill="#222">5</text>
<line x1="67.8" y1="396.5" x2="70.5" y2="396.5" stroke="#4a4a4a" stroke-width="1.00"/>
<text x="56.2" y="401.3" font-size="10.2" text-anchor="end" fill="#222">5.0x10</text>
<text x="56.9" y="397.7" font-size="7.6" fill="#222">4</text>
<line x1="67.8" y1="430.5" x2="70.5" y2="430.5" stroke="#4a4a4a" stroke-width="1.00"/>
<text x="57.2" y="434.1" font-size="10.2" text-anchor="end" fill="#222">0</text>
<line x1="70.5" y1="430.5" x2="70.5" y2="433.0" stroke="#4a4a4a" stroke-width="1.00"/>
<text x="70.5" y="450.2" font-size="10.3" text-anchor="middle" fill="#222" font-weight="normal" >-150</text>
<line x1="118.5" y1="430.5" x2="118.5" y2="433.0" stroke="#4a4a4a" stroke-width="1.00"/>
<text x="118.9" y="450.2" font-size="10.3" text-anchor="middle" fill="#222" font-weight="normal" >-100</text>
<line x1="167.5" y1="430.5" x2="167.5" y2="433.0" stroke="#4a4a4a" stroke-width="1.00"/>
<text x="167.3" y="450.2" font-size="10.3" text-anchor="middle" fill="#222" font-weight="normal" >-50</text>
<line x1="215.5" y1="430.5" x2="215.5" y2="433.0" stroke="#4a4a4a" stroke-width="1.00"/>
<text x="215.7" y="450.2" font-size="10.3" text-anchor="middle" fill="#222" font-weight="normal" >0</text>
<line x1="264.5" y1="430.5" x2="264.5" y2="433.0" stroke="#4a4a4a" stroke-width="1.00"/>
<text x="264.1" y="450.2" font-size="10.3" text-anchor="middle" fill="#222" font-weight="normal" >50</text>
<line x1="312.5" y1="430.5" x2="312.5" y2="433.0" stroke="#4a4a4a" stroke-width="1.00"/>
<text x="312.5" y="450.2" font-size="10.3" text-anchor="middle" fill="#222" font-weight="normal" >100</text>
<text x="138.8" y="472.0" font-size="12.0" text-anchor="start" fill="#222" font-weight="normal" textLength="105" lengthAdjust="spacingAndGlyphs">Zeta Potential (mV)</text>
<text transform="translate(16.0,379.1) rotate(-90)" font-size="12" fill="#222" textLength="67.6" lengthAdjust="spacingAndGlyphs">Total counts</text>
<line x1="228.0" y1="274.5" x2="244.1" y2="274.5" stroke="#111" stroke-width="1.10"/>
<text x="254.9" y="277.5" font-size="8.4" fill="#2a2a2a" textLength="14.6" lengthAdjust="spacingAndGlyphs">EFB</text>
<line x1="228.0" y1="283.5" x2="244.1" y2="283.5" stroke="#2a2ac8" stroke-width="1.10"/>
<text x="254.9" y="286.5" font-size="8.4" fill="#2a2a2a" textLength="50.2" lengthAdjust="spacingAndGlyphs">Cellulose EFB</text>
<line x1="228.0" y1="291.5" x2="244.1" y2="291.5" stroke="#d02c2c" stroke-width="1.10"/>
<text x="254.9" y="294.5" font-size="8.4" fill="#2a2a2a" textLength="31.4" lengthAdjust="spacingAndGlyphs">CNF EFB</text>
<path d="M157.2,430.6 L160.3,423.3 L163.4,417.1 L166.4,415.6 L169.5,408.0 L171.8,398.7 L174.9,391.1 L179.5,383.4 L181.0,377.3 L183.3,365.0 L184.1,354.0 L186.6,328.9 L188.5,310.0 L189.1,299.0 L190.4,286.5 L191.6,277.0 L194.2,273.5 L195.4,276.4 L196.7,286.5 L197.9,301.6 L198.9,304.1 L199.2,310.0 L200.5,328.9 L203.0,347.8 L204.8,365.0 L207.1,380.3 L210.9,389.5 L213.2,400.3 L215.5,414.1 L217.8,423.3 L220.9,430.6" fill="none" stroke="#111" stroke-width="1.10" stroke-linejoin="round" stroke-linecap="round" />
<path d="M161.8,430.6 L163.4,427.9 L164.9,420.2 L166.4,411.0 L168.0,388.0 L169.0,365.0 L170.2,335.2 L171.2,315.0 L171.7,292.8 L172.5,285.2 L173.0,284.6 L175.3,282.0 L176.5,280.2 L177.8,273.9 L179.0,270.7 L180.3,269.9 L182.2,270.7 L182.8,273.9 L183.4,286.5 L184.0,305.4 L184.7,315.0 L185.3,328.9 L186.6,347.8 L187.9,380.3 L189.4,403.3 L191.7,418.7 L193.3,426.3 L195.6,430.6" fill="none" stroke="#2020e0" stroke-width="1.10" stroke-linejoin="round" stroke-linecap="round" />
<path d="M144.2,430.6 L148.8,425.6 L153.4,418.7 L158.0,403.3 L160.3,388.0 L161.4,370.0 L163.9,335.2 L165.2,315.0 L166.2,310.0 L168.7,281.4 L172.1,302.9 L174.6,315.0 L177.2,328.9 L179.0,341.5 L181.0,365.0 L183.3,380.3 L184.8,392.6 L188.7,400.3 L193.3,406.4 L196.3,412.5 L200.2,422.5 L202.5,424.0 L206.3,423.0 L210.2,425.6 L214.8,429.1 L218.6,429.4 L220.9,430.6" fill="none" stroke="#e02020" stroke-width="1.10" stroke-linejoin="round" stroke-linecap="round" />
<text x="351.8" y="260.8" font-size="17.5" text-anchor="start" fill="#000" font-weight="bold" textLength="20.6" lengthAdjust="spacingAndGlyphs">(d)</text>
<line x1="407.5" y1="260.5" x2="650.5" y2="260.5" stroke="#777" stroke-width="1.00"/>
<line x1="650.5" y1="260.5" x2="650.5" y2="430.5" stroke="#707070" stroke-width="1.00"/>
<line x1="407.8" y1="260.2" x2="407.8" y2="430.5" stroke="#858585" stroke-width="1.40"/>
<line x1="407.5" y1="430.5" x2="650.5" y2="430.5" stroke="#555" stroke-width="1.00"/>
<line x1="405.5" y1="430.5" x2="407.5" y2="430.5" stroke="#7a7a7a" stroke-width="1.00"/>
<text x="399.0" y="435.3" font-size="10.5" text-anchor="end" fill="#222" font-weight="normal" >0</text>
<line x1="405.5" y1="402.5" x2="407.5" y2="402.5" stroke="#7a7a7a" stroke-width="1.00"/>
<text x="399.0" y="407.0" font-size="10.5" text-anchor="end" fill="#222" font-weight="normal" >1000</text>
<line x1="405.5" y1="373.5" x2="407.5" y2="373.5" stroke="#7a7a7a" stroke-width="1.00"/>
<text x="399.0" y="378.6" font-size="10.5" text-anchor="end" fill="#222" font-weight="normal" >2000</text>
<line x1="405.5" y1="345.5" x2="407.5" y2="345.5" stroke="#7a7a7a" stroke-width="1.00"/>
<text x="399.0" y="350.3" font-size="10.5" text-anchor="end" fill="#222" font-weight="normal" >3000</text>
<line x1="405.5" y1="317.5" x2="407.5" y2="317.5" stroke="#7a7a7a" stroke-width="1.00"/>
<text x="399.0" y="322.0" font-size="10.5" text-anchor="end" fill="#222" font-weight="normal" >4000</text>
<line x1="405.5" y1="288.5" x2="407.5" y2="288.5" stroke="#7a7a7a" stroke-width="1.00"/>
<text x="399.0" y="293.7" font-size="10.5" text-anchor="end" fill="#222" font-weight="normal" >5000</text>
<line x1="405.5" y1="260.5" x2="407.5" y2="260.5" stroke="#7a7a7a" stroke-width="1.00"/>
<text x="399.0" y="265.3" font-size="10.5" text-anchor="end" fill="#222" font-weight="normal" >6000</text>
<line x1="408.5" y1="430.5" x2="408.5" y2="433.0" stroke="#555" stroke-width="1.00"/>
<text x="408.0" y="450.0" font-size="10.5" text-anchor="middle" fill="#222" font-weight="normal" >0</text>
<line x1="477.5" y1="430.5" x2="477.5" y2="433.0" stroke="#555" stroke-width="1.00"/>
<text x="477.3" y="450.0" font-size="10.5" text-anchor="middle" fill="#222" font-weight="normal" >1</text>
<line x1="546.5" y1="430.5" x2="546.5" y2="433.0" stroke="#555" stroke-width="1.00"/>
<text x="546.6" y="450.0" font-size="10.5" text-anchor="middle" fill="#222" font-weight="normal" >2</text>
<line x1="615.5" y1="430.5" x2="615.5" y2="433.0" stroke="#555" stroke-width="1.00"/>
<text x="615.9" y="450.0" font-size="10.5" text-anchor="middle" fill="#222" font-weight="normal" >3</text>
<text x="496.0" y="471.8" font-size="12.0" text-anchor="start" fill="#222" font-weight="normal" textLength="68.3" lengthAdjust="spacingAndGlyphs">Energy (keV)</text>
<text transform="translate(365.6,379.4) rotate(-90)" font-size="12" fill="#222" textLength="68.2" lengthAdjust="spacingAndGlyphs">Total counts</text>
<line x1="564.8" y1="387.9" x2="586.7" y2="387.9" stroke="#5c5cd4" stroke-width="1.90"/>
<text x="591.5" y="391.0" font-size="8.4" fill="#2a2a2a" textLength="50.2" lengthAdjust="spacingAndGlyphs">Cellulose EFB</text>
<line x1="564.8" y1="400.2" x2="586.7" y2="400.2" stroke="#cc4444" stroke-width="1.60"/>
<text x="591.5" y="403.3" font-size="8.4" fill="#2a2a2a" textLength="31.4" lengthAdjust="spacingAndGlyphs">CNF EFB</text>
<text x="422.6" y="288.4" font-size="11.2" text-anchor="start" fill="#1a1a1a" font-weight="normal" textLength="6.5" lengthAdjust="spacingAndGlyphs">C</text>
<text x="438.6" y="360.4" font-size="11.0" text-anchor="start" fill="#1a1a1a" font-weight="normal" textLength="7.2" lengthAdjust="spacingAndGlyphs">O</text>
<text x="455.8" y="417.9" font-size="10.2" text-anchor="start" fill="#1a1a1a" font-weight="normal" textLength="10.6" lengthAdjust="spacingAndGlyphs">Fe</text>
<path d="M416.1,423.4 C416.4,421.2 417.4,414.7 418.0,410.0 C418.6,405.3 419.3,404.5 419.9,395.0 C420.5,385.5 421.0,364.5 421.5,353.0 C422.0,341.5 422.2,333.1 422.7,326.0 C423.2,318.9 423.9,311.2 424.5,310.7 C425.1,310.2 425.8,315.9 426.4,323.0 C427.0,330.1 427.8,341.0 428.4,353.0 C429.0,365.0 429.5,385.5 429.9,395.0 C430.3,404.5 430.6,406.3 430.8,410.0 C431.1,413.7 431.0,417.1 431.4,417.2 C431.8,417.2 432.2,412.7 433.0,410.3 C433.8,407.9 435.4,404.1 436.0,402.7 C436.6,401.3 436.5,403.0 436.8,401.7 C437.1,400.4 437.2,399.3 437.6,395.0 C438.0,390.7 438.5,380.7 439.1,375.7 C439.7,370.7 440.6,364.9 441.4,364.9 C442.2,364.9 443.1,370.7 443.7,375.7 C444.3,380.7 444.8,391.2 445.2,395.0 C445.6,398.8 445.6,394.9 446.0,398.7 C446.4,402.5 446.9,413.6 447.5,418.0 C448.1,422.4 449.0,424.1 449.8,424.9 C450.6,425.7 451.6,423.4 452.5,423.0 C453.4,422.6 453.7,422.2 455.2,422.3 C456.7,422.4 459.0,423.4 461.3,423.8 C463.6,424.2 466.4,424.6 469.0,424.9 C471.6,425.2 474.1,425.4 476.7,425.7 C479.3,426.0 480.5,426.6 484.4,426.9 C488.3,427.1 490.1,427.4 500.0,427.2 C509.9,427.0 534.2,425.8 544.0,425.8 C553.8,425.8 554.8,426.7 559.0,427.0 C563.2,427.3 563.2,427.5 569.0,427.8 C574.8,428.1 581.5,428.6 594.0,429.0 C606.5,429.4 634.6,429.8 644.0,430.0 C653.4,430.2 649.2,430.0 650.3,430.0" fill="none" stroke="#2424dd" stroke-width="1.20" stroke-linejoin="round" stroke-linecap="round" />
<defs><clipPath id="cdl"><rect x="400" y="318" width="31.2" height="117"/></clipPath><clipPath id="cdr"><rect x="431.2" y="250" width="230" height="185"/><rect x="400" y="250" width="31.2" height="68"/></clipPath></defs>
<path d="M416.1,423.4 C416.4,421.2 417.4,414.7 418.0,410.0 C418.6,405.3 419.4,404.5 419.9,395.0 C420.4,385.5 420.7,365.8 421.2,353.0 C421.7,340.2 422.3,328.3 423.0,318.3 C423.7,308.3 424.5,295.6 425.3,293.0 C426.1,290.4 427.0,296.2 427.6,303.0 C428.2,309.8 428.7,325.4 429.1,333.7 C429.5,342.0 429.6,342.8 429.9,353.0 C430.2,363.2 430.4,384.7 430.7,395.0 C430.9,405.3 431.1,409.2 431.4,415.0 C431.6,420.8 431.8,428.1 432.2,429.5 C432.6,430.9 432.9,424.8 433.7,423.4 C434.5,422.0 435.9,422.2 436.8,421.1 C437.7,420.0 438.2,418.1 439.0,417.0 C439.8,415.9 440.5,414.2 441.4,414.2 C442.3,414.2 443.5,415.4 444.5,417.2 C445.5,419.0 446.2,423.2 447.5,424.9 C448.8,426.6 449.8,426.7 452.1,427.2 C454.4,427.7 457.2,427.9 461.3,428.0 C465.4,428.1 470.2,428.1 476.7,428.0 C483.1,427.9 492.8,427.9 500.0,427.7 C507.2,427.5 513.5,427.4 520.0,427.0 C526.5,426.6 534.2,425.6 539.0,425.0 C543.8,424.4 545.7,423.6 549.0,423.7 C552.3,423.8 555.7,424.9 559.0,425.7 C562.3,426.4 563.2,427.6 569.0,428.2 C574.8,428.8 585.7,429.3 594.0,429.5 C602.3,429.7 609.6,429.4 619.0,429.5 C628.4,429.6 645.1,430.1 650.3,430.2" fill="none" stroke="#e62a2a" stroke-width="1.20" stroke-linejoin="round" stroke-linecap="round" clip-path="url(#cdr)"/>
<path d="M416.1,423.4 C416.4,421.2 417.4,414.7 418.0,410.0 C418.6,405.3 419.4,404.5 419.9,395.0 C420.4,385.5 420.7,365.8 421.2,353.0 C421.7,340.2 422.3,328.3 423.0,318.3 C423.7,308.3 424.5,295.6 425.3,293.0 C426.1,290.4 427.0,296.2 427.6,303.0 C428.2,309.8 428.7,325.4 429.1,333.7 C429.5,342.0 429.6,342.8 429.9,353.0 C430.2,363.2 430.4,384.7 430.7,395.0 C430.9,405.3 431.1,409.2 431.4,415.0 C431.6,420.8 431.8,428.1 432.2,429.5 C432.6,430.9 432.9,424.8 433.7,423.4 C434.5,422.0 435.9,422.2 436.8,421.1 C437.7,420.0 438.2,418.1 439.0,417.0 C439.8,415.9 440.5,414.2 441.4,414.2 C442.3,414.2 443.5,415.4 444.5,417.2 C445.5,419.0 446.2,423.2 447.5,424.9 C448.8,426.6 449.8,426.7 452.1,427.2 C454.4,427.7 457.2,427.9 461.3,428.0 C465.4,428.1 470.2,428.1 476.7,428.0 C483.1,427.9 492.8,427.9 500.0,427.7 C507.2,427.5 513.5,427.4 520.0,427.0 C526.5,426.6 534.2,425.6 539.0,425.0 C543.8,424.4 545.7,423.6 549.0,423.7 C552.3,423.8 555.7,424.9 559.0,425.7 C562.3,426.4 563.2,427.6 569.0,428.2 C574.8,428.8 585.7,429.3 594.0,429.5 C602.3,429.7 609.6,429.4 619.0,429.5 C628.4,429.6 645.1,430.1 650.3,430.2" fill="none" stroke="#e62a2a" stroke-width="1.20" stroke-linejoin="round" stroke-linecap="round" clip-path="url(#cdl)" opacity="0.6"/>
<defs><clipPath id="ci1"><rect x="465" y="269.1" width="85.3" height="63.9"/></clipPath><clipPath id="ci2"><rect x="553.8" y="269.2" width="86.1" height="64.1"/></clipPath><filter id="bl" x="-5%" y="-5%" width="110%" height="110%"><feGaussianBlur stdDeviation="0.45"/></filter></defs>
<g clip-path="url(#ci1)"><g filter="url(#bl)">
<rect x="465" y="269" width="86" height="65" fill="#272727"/>
<rect x="465" y="269" width="16" height="6" fill="#767676"/>
<path d="M465,274 C490,274.5 520,275 551,275.2 L551,293 C540,293.2 525,293.5 515,295.5 C508,297 503,295 495,294 C485,292.5 475,291.5 465,291.5 Z" fill="#8e8e8e"/>
<path d="M465,274.6 C490,275 520,275.6 551,275.8" stroke="#b2b2b2" stroke-width="1" fill="none"/>
<path d="M465,283 C490,283.5 520,282 551,283" stroke="#9e9e9e" stroke-width="1.2" fill="none"/>
<path d="M465,291 C475,291 485,292 495,293.4 C503,294.5 508,296.5 515,295 C525,293 540,292.6 551,292.5" stroke="#b0b0b0" stroke-width="0.9" fill="none"/>
<path d="M465,291.5 L479,292.5 L477,302.5 L465,302.2 Z" fill="#6c6c6c"/>
<path d="M467,293 L474,301" stroke="#9a9a9a" stroke-width="1" fill="none"/>
<path d="M479,292.5 C490,293 500,294.5 508,296.5 C520,294.5 535,293.2 551,293 L551,305.7 C540,306 530,306.5 520,307.5 C510,308 500,307.5 490,305.5 C480,303.5 470,302.5 465,302.2 L477,302.5 Z" fill="#1a1a1a"/>
<path d="M465,302.2 C480,303.5 495,306.5 505,308 C520,308.2 535,306.5 551,305.7 L551,324.2 C545,323.5 537,323 533,322.5 C530,321 526,319.8 524,319.8 C518,320.5 512,322 506,322.5 C490,322 478,321 465,320.7 Z" fill="#8a8a8a"/>
<path d="M465,307.5 C485,308.5 505,311 525,310 C535,309.5 545,309 551,309" stroke="#a6a6a6" stroke-width="1" fill="none"/>
<path d="M465,314.5 C485,315 505,316.5 524,316 C535,315 545,314 551,314" stroke="#aaaaaa" stroke-width="1" fill="none"/>
<path d="M465,319 C485,319.5 505,320.5 520,319.5 C528,319 533,321 538,321.5" stroke="#b4b4b4" stroke-width="0.8" fill="none"/>
<path d="M465,320.7 C478,321 490,322 506,322.5 C512,322 518,320.5 524,319.8 C528,320 531,321.5 533,322.5 C540,323.2 546,324 551,324.2 L551,334 L465,334 Z" fill="#2c2c2c"/>
<path d="M470,332 L490,324 M500,333 L520,325 M528,333 L545,326" stroke="#3c3c3c" stroke-width="1.2" fill="none"/>
</g></g>
<rect x="478.7" y="276.7" width="52.3" height="12.1" fill="none" stroke="#bf4fcf" stroke-width="2"/>
<rect x="478.4" y="278.2" width="12.5" height="2.8" fill="#25259a"/>
<line x1="467.0" y1="334.6" x2="490.0" y2="334.6" stroke="#c4c4c4" stroke-width="0.70"/>
<line x1="504.0" y1="334.8" x2="522.0" y2="334.8" stroke="#b0b0b0" stroke-width="1.00"/>
<g clip-path="url(#ci2)"><g filter="url(#bl)">
<rect x="553" y="269" width="88" height="66" fill="#161616"/>
<path d="M553.8,290 L566,306 L566,333.5 L553.8,333.5 Z" fill="#222"/>
<line x1="558.0" y1="296.0" x2="566.0" y2="316.0" stroke="#555" stroke-width="1.50"/>
<line x1="598.0" y1="308.0" x2="616.0" y2="330.0" stroke="#6e6e6e" stroke-width="3.00"/>
<line x1="549.0" y1="267.0" x2="586.5" y2="337.0" stroke="#b4b4b4" stroke-width="3.90"/>
<line x1="570.2" y1="266.5" x2="598.5" y2="336.0" stroke="#c6c6c6" stroke-width="5.00"/>
<line x1="576.3" y1="266.5" x2="605.3" y2="336.0" stroke="#b6b6b6" stroke-width="2.90"/>
<line x1="593.0" y1="266.5" x2="623.0" y2="336.0" stroke="#c4c4c4" stroke-width="10.40"/>
<line x1="597.5" y1="266.5" x2="621.8" y2="333.5" stroke="#8a8a8a" stroke-width="0.80"/>
<line x1="599.5" y1="266.5" x2="638.5" y2="333.0" stroke="#a4a4a4" stroke-width="4.00"/>
<line x1="549.0" y1="309.0" x2="586.0" y2="337.0" stroke="#cacaca" stroke-width="6.60"/>
<line x1="634.5" y1="267.0" x2="641.0" y2="285.0" stroke="#a8a8a8" stroke-width="3.00"/>
</g></g>
<rect x="602" y="288.8" width="13.8" height="4" fill="#3232a0" opacity="0.9"/>
<rect x="602" y="290.6" width="4.6" height="3.4" fill="#b048c0" opacity="0.8"/>
<line x1="556.0" y1="334.6" x2="583.0" y2="334.6" stroke="#c4c4c4" stroke-width="0.70"/>
<line x1="597.0" y1="334.8" x2="613.0" y2="334.8" stroke="#b0b0b0" stroke-width="1.00"/>
<text x="467.5" y="348.2" font-size="9.0" text-anchor="start" fill="#1c1ccc" font-weight="bold" textLength="51.1" lengthAdjust="spacingAndGlyphs">Cellulose EFB</text>
<text x="556.8" y="348.2" font-size="9.0" text-anchor="start" fill="#e02020" font-weight="bold" textLength="31" lengthAdjust="spacingAndGlyphs">CNF EFB</text>
</svg></body></html>
